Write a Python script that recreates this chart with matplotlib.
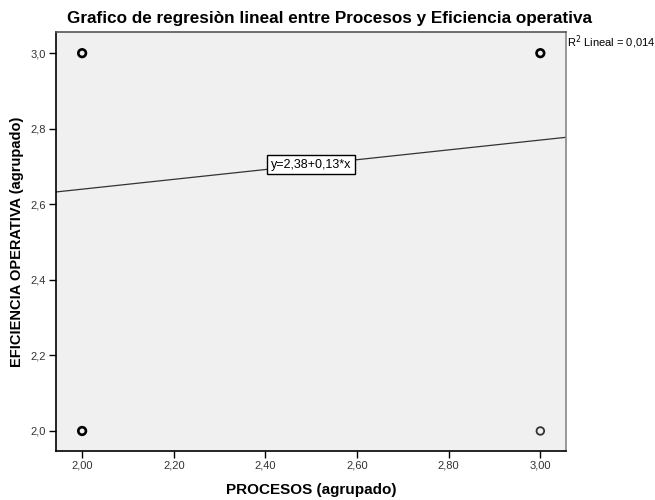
import matplotlib.pyplot as plt

# data
procesos = [2.0, 2.0, 3.0, 3.0]
eficiencia = [3.0, 2.0, 3.0, 2.0]
intercept = 2.38
slope = 0.13
r2 = '0,014'
x_ticks = [2.0, 2.2, 2.4, 2.6, 2.8, 3.0]
x_tick_labels = ['2,00', '2,20', '2,40', '2,60', '2,80', '3,00']
y_ticks = [2.0, 2.2, 2.4, 2.6, 2.8, 3.0]
y_tick_labels = ['2,0', '2,2', '2,4', '2,6', '2,8', '3,0']

plt.rc('font', family=['Liberation Sans', 'DejaVu Sans'], size=8)
fig = plt.figure(figsize=(6.55, 5.0), dpi=100)
# axes box: x 56..566, y 32..451 px
ax = fig.add_axes([56 / 655, 1 - 451 / 500, 510 / 655, 419 / 500])
ax.set_facecolor('#f0f0f0')

xmin, xmax = 1.943, 3.056
ymin, ymax = 1.947, 3.056
ax.set_xlim(xmin, xmax)
ax.set_ylim(ymin, ymax)

ax.spines['left'].set_color('black')
ax.spines['bottom'].set_color('black')
ax.spines['top'].set_color('#555555')
ax.spines['right'].set_color('#888888')
for s in ax.spines.values():
    s.set_linewidth(1.2)

ax.set_xticks(x_ticks)
ax.set_xticklabels(x_tick_labels)
ax.set_yticks(y_ticks)
ax.set_yticklabels(y_tick_labels)
ax.tick_params(direction='out', length=5, width=1.0, pad=2, labelsize=8, labelcolor='#333333')

# fit line
xs = [xmin, xmax]
ax.plot(xs, [intercept + slope * x for x in xs], color='#333333', linewidth=0.9, zorder=2)

ax.scatter(procesos, eficiencia, s=30, facecolors='none',
           edgecolors=['black', 'black', 'black', '#333333'],
           linewidths=[1.9, 1.9, 1.9, 1.3], zorder=3)

xm = (xmin + xmax) / 2
eq = 'y=%s+%s*x' % (('%.2f' % intercept).replace('.', ','), ('%.2f' % slope).replace('.', ','))
ax.text(xm, intercept + slope * xm, eq, ha='center', va='center', fontsize=9,
        bbox=dict(boxstyle='square,pad=0.3', facecolor='white', edgecolor='black', linewidth=1.0), zorder=4)

fig.text(567 / 655, 1 - 42 / 500, 'R$^2$ Lineal = ' + r2, ha='left', va='center', fontsize=8)

fig.suptitle('Grafico de regresiòn lineal entre Procesos y Eficiencia operativa',
             x=330 / 655, y=1 - 19 / 500, va='center', fontsize=12.3, fontweight='bold')
ax.set_xlabel('PROCESOS (agrupado)', fontsize=11, fontweight='bold')
ax.set_ylabel('EFICIENCIA OPERATIVA (agrupado)', fontsize=10.5, fontweight='bold')
ax.xaxis.set_label_coords(0.5, (451 - 490) / 419)
ax.xaxis.label.set_va('center')
ax.yaxis.set_label_coords((17 - 56) / 510, 0.5)
ax.yaxis.label.set_va('center')

plt.savefig('out.png', dpi=100)
plt.close()
